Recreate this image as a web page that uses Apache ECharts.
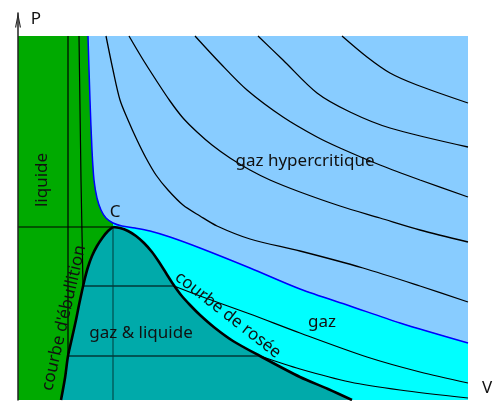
<!DOCTYPE html>
<html>
<head>
<meta charset="utf-8">
<script src="https://cdn.jsdelivr.net/npm/echarts/dist/echarts.min.js"></script>
<style>
  html, body { margin: 0; padding: 0; background: #fff; }
  #chart { width: 504px; height: 401px; }
</style>
</head>
<body>
<div id="chart"></div>
<script>
// Diagramme de Clapeyron (P, V), unités arbitraires
const V_MAX = 450;
const P_TOP = 364;

// isotherme critique (en bleu)
const critIso = [[70,364],[72,300],[74,250],[76,220],[79,202],[83,190],[88,182],[95,177],[104,174],[117,172],[132,169],[152,163],[182,152],[232,132],[282,111],[332,94],[382,77],[450,57]];

// isothermes hypercritiques
const isoA = [[88,364],[95,330],[102,300],[110,280],[119,260],[128,242],[138,225],[150,210],[165,195],[182,184],[199,174],[232,161],[282,149],[345,132],[402,114],[450,98]];
const isoB = [[111,364],[124,342],[138,320],[152,299],[165,282],[179,268],[194,255],[212,242],[232,230],[252,220],[282,208],[322,194],[362,182],[402,170],[450,158]];
const isoC = [[177,364],[202,337],[229,310],[265,283],[299,263],[322,252],[362,235],[402,220],[450,203]];
const isoD = [[240,364],[265,340],[299,307],[332,288],[372,272],[450,253]];
const isoE = [[324,364],[349,343],[372,327],[399,315],[450,297]];

// isothermes sous-critiques : branche liquide + palier, puis branche gaz
const sub1Liquid = [[61,364],[63,220],[65,114],[156,114]];
const sub1Gas = [[156,114],[182,104],[232,86],[282,67],[349,43],[402,28],[450,17]];
const sub2Liquid = [[50,364],[50,44],[242,44]];
const sub2Gas = [[242,44],[282,31],[332,18],[382,10],[450,2]];

// courbe de saturation
const boiling = [[43,0],[47,22],[50,44],[54,62],[58,80],[61,95],[64,109],[67,122],[70,133],[74,144],[79,154],[85,163],[90,169],[95,173]];
const dew = [[95,173],[102,172],[110,169],[118,164],[126,157],[134,148],[141,138],[148,127],[155,116],[163,105],[172,95],[182,85],[197,72],[215,59],[242,44],[282,23],[310,11],[334,0]];

// point critique
const critPoint = [95, 173];

const chart = echarts.init(document.getElementById('chart'));

// zone remplie (polygone) via les axes du graphique
function area(points, color) {
  return {
    type: 'custom',
    coordinateSystem: 'cartesian2d',
    silent: true,
    z: 1,
    data: [[0, 0]],
    renderItem: (params, api) => ({
      type: 'polygon',
      shape: { points: points.map((p) => api.coord(p)) },
      style: { fill: color }
    })
  };
}

function curve(points, color, width, smooth, z) {
  return {
    type: 'line',
    data: points,
    showSymbol: false,
    silent: true,
    smooth: smooth,
    z: z,
    lineStyle: { color: color, width: width }
  };
}

const critLower = critIso.filter((p) => p[0] >= critPoint[0]);
const plotBox = [[0, 0], [0, P_TOP], [V_MAX, P_TOP], [V_MAX, 0]];
const hyperZone = critIso.concat([[V_MAX, P_TOP]]);
const gasZone = critLower.concat([[V_MAX, 0]], dew.slice().reverse());
const mixZone = boiling.concat(dew.slice(1));

const font = '17px "Noto Sans", sans-serif';
function label(text, x, y, rot) {
  return {
    type: 'text',
    x: x,
    y: y,
    rotation: (rot || 0) * Math.PI / 180,
    z: 100,
    style: { text: text, font: font, fill: '#111', align: 'center', verticalAlign: 'middle' }
  };
}

const option = {
  animation: false,
  grid: { left: 18, right: 36, top: 13, bottom: 1 },
  xAxis: {
    type: 'value',
    min: 0,
    max: V_MAX,
    axisLine: { show: false },
    axisTick: { show: false },
    axisLabel: { show: false },
    splitLine: { show: false }
  },
  yAxis: {
    type: 'value',
    min: 0,
    max: 387,
    z: 10,
    axisLine: {
      show: true,
      symbol: ['none', 'path://M0,15 L3,0 L6,15 L4.8,15 L3,4.5 L1.2,15 Z'],
      symbolSize: [7, 15],
      symbolOffset: [0, -7],
      lineStyle: { color: '#222', width: 1.5 }
    },
    axisTick: { show: false },
    axisLabel: { show: false },
    splitLine: { show: false }
  },
  series: [
    area(plotBox, '#00aa00'),
    area(hyperZone, '#88ccff'),
    area(gasZone, '#00ffff'),
    area(mixZone, '#00aaaa'),
    curve(isoA, '#000', 1.3, 0.3, 3),
    curve(isoB, '#000', 1.3, 0.3, 3),
    curve(isoC, '#000', 1.3, 0.3, 3),
    curve(isoD, '#000', 1.3, 0.3, 3),
    curve(isoE, '#000', 1.3, 0.3, 3),
    curve(sub1Liquid, '#000', 1.2, false, 3),
    curve(sub1Gas, '#000', 1.2, 0.3, 3),
    curve(sub2Liquid, '#000', 1.2, false, 3),
    curve(sub2Gas, '#000', 1.2, 0.3, 3),
    curve([[0, critPoint[1]], critPoint], '#000', 1, false, 3),
    curve([critPoint, [critPoint[0], 0]], '#003a3a', 1, false, 3),
    curve(critIso, '#0000ff', 1.5, 0.3, 4),
    curve(boiling, '#000', 2.6, 0.3, 5),
    curve(dew, '#000', 2.6, 0.3, 5)
  ],
  graphic: [
    label('P', 36, 19),
    label('V', 487, 388),
    label('C', 115, 212),
    label('liquide', 42, 180, 90),
    label('gaz hypercritique', 305, 161),
    label('gaz', 322, 322),
    label('gaz & liquide', 141, 333),
    label("courbe d'ébullition", 64, 318, 77),
    label('courbe de rosée', 228, 315, -38)
  ]
};

chart.setOption(option);
</script>
</body>
</html>
